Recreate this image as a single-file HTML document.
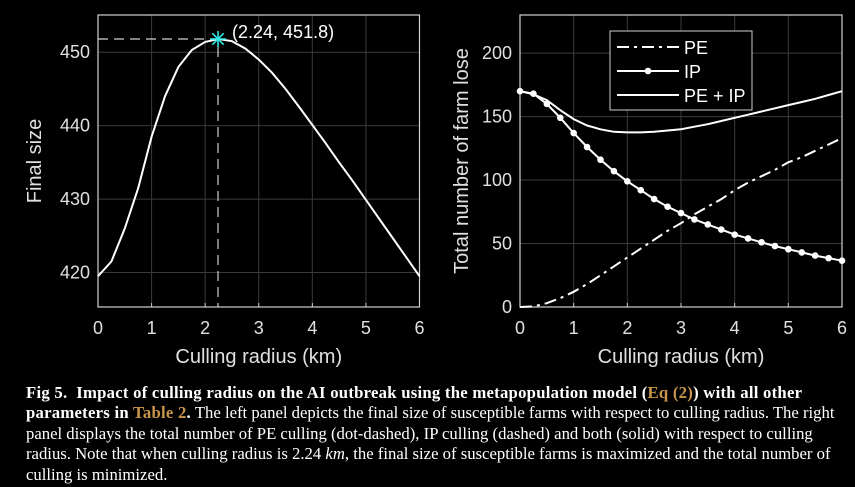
<!DOCTYPE html>
<html><head><meta charset="utf-8">
<style>
html,body{margin:0;padding:0;background:#000;}
body{width:855px;height:487px;overflow:hidden;position:relative;font-family:"Liberation Sans",sans-serif;}
svg{position:absolute;left:0;top:0;}
#cap{position:absolute;left:26px;top:383px;color:#fff;font-family:"Liberation Serif",serif;font-size:16.7px;line-height:20.4px;white-space:nowrap;}
#cap b{letter-spacing:0.25px;}
#cap .o{color:#c9954a;}
</style></head><body>
<svg id="chart" width="855" height="380" xmlns="http://www.w3.org/2000/svg"></svg>
<div id="cap">
<b>Fig 5.&nbsp; Impact of culling radius on the AI outbreak using the metapopulation model (<span class="o">Eq (2)</span>) with all other</b><br>
<b>parameters in <span class="o">Table 2</span>.</b> The left panel depicts the final size of susceptible farms with respect to culling radius. The right<br>
panel displays the total number of PE culling (dot-dashed), IP culling (dashed) and both (solid) with respect to culling<br>
radius. Note that when culling radius is 2.24 <i>km</i>, the final size of susceptible farms is maximized and the total number of<br>
culling is minimized.
</div>
<script>
const radius = [0,0.25,0.5,0.75,1,1.25,1.5,1.75,2,2.25,2.5,2.75,3,3.25,3.5,3.75,4,4.25,4.5,4.75,5,5.25,5.5,5.75,6];
const finalSize = [419.5,421.5,426,431.5,438.5,444,448,450.3,451.4,451.8,451.5,450.5,449,447.2,445,442.6,440.1,437.6,435,432.5,429.9,427.3,424.7,422.1,419.5];
const ipLoss = [170,168,160,149,137,126,116,107,99,92,85,79,74,69,65,61,57,54,51,48,45.5,43,40.5,38.5,36.5];
const peLoss = [0,0.5,3,7,12,18,25,32,39,46,53,60,66,73,79,85,92,98,103,108,114,118,123,128,133];
const totalLoss = [170,167.5,163,155,148,143,140,138,137.5,137.5,138,139,140,142,144,146.5,149,151.5,154,156.5,159,161.5,164,167,170];
const xTicks = [0,1,2,3,4,5,6];
const yTicksL = [420,430,440,450];
const yTicksR = [0,50,100,150,200];
const optX = 2.24, optY = 451.8;

const NS="http://www.w3.org/2000/svg";
const svg=document.getElementById('chart');
function mk(tag,attrs,parent){const e=document.createElementNS(NS,tag);for(const k in attrs)e.setAttribute(k,attrs[k]);(parent||svg).appendChild(e);return e;}
function txt(s,attrs,parent){const e=mk('text',attrs,parent);e.textContent=s;return e;}

function panel(L,R,T,B,xmin,xmax,ymin,ymax,yticks,ylabel,name){
  const g=mk('g',{});
  
  
  const sx=v=>L+(v-xmin)/(xmax-xmin)*(R-L);
  const sy=v=>B-(v-ymin)/(ymax-ymin)*(B-T);
  xTicks.forEach(t=>{
    const l=mk('line',{x1:sx(t),x2:sx(t),y1:T,y2:B,stroke:'#3a3a3a','stroke-width':1},g);
    
    
    mk('line',{x1:sx(t),x2:sx(t),y1:B,y2:B-4,stroke:'#ccc'},g);
    const tx=txt(String(t),{x:sx(t),y:B+27,fill:'#e0e0e0','font-size':18,'text-anchor':'middle'},g);
    
    
  });
  yticks.forEach(t=>{
    const l=mk('line',{x1:L,x2:R,y1:sy(t),y2:sy(t),stroke:'#3a3a3a','stroke-width':1},g);
    
    
    const tx=txt(String(t),{x:L-8,y:sy(t)+6,fill:'#e0e0e0','font-size':18,'text-anchor':'end'},g);
    
    
  });
  const box=mk('rect',{x:L,y:T,width:R-L,height:B-T,fill:'none',stroke:'#d0d0d0','stroke-width':1.2},g);
  
  
  const xl=txt('Culling radius (km)',{x:(L+R)/2,y:B+56,fill:'#e0e0e0','font-size':20,'text-anchor':'middle'},g);
  
  
  const yx=L-(name==='left-panel'?57:52), yy=(T+B)/2;
  const yl=txt(ylabel,{x:yx,y:yy,fill:'#e0e0e0','font-size':20,'text-anchor':'middle',transform:`rotate(-90 ${yx} ${yy})`},g);
  
  
  return {sx,sy,g};
}
function pathD(xs,ys,sx,sy){return xs.map((x,i)=>(i?'L':'M')+sx(x).toFixed(1)+' '+sy(ys[i]).toFixed(1)).join(' ');}

const A=panel(98,419.5,15,307,0,6,415.3,455.07,yTicksL,'Final size','left-panel');
const fl=mk('path',{d:pathD(radius,finalSize,A.sx,A.sy),fill:'none',stroke:'#fff','stroke-width':2},A.g);


const gv=mk('polyline',{points:`${A.sx(0)},${A.sy(optY)} ${A.sx(optX)},${A.sy(optY)} ${A.sx(optX)},307`,fill:'none',stroke:'#d0d0d0','stroke-width':1.2,'stroke-dasharray':'10 6'},A.g);


const sg=mk('g',{stroke:'#2ee8e8','stroke-width':1.6},A.g);


const cx=A.sx(optX),cy=A.sy(optY),r=8;
[0,45,90,135].forEach(a=>{const rad=a*Math.PI/180;mk('line',{x1:cx-r*Math.cos(rad),y1:cy-r*Math.sin(rad),x2:cx+r*Math.cos(rad),y2:cy+r*Math.sin(rad)},sg);});
const ol=txt(`(${optX}, ${optY})`,{x:cx+14,y:cy-1,fill:'#fff','font-size':18},A.g);



const Bp=panel(520,842,15,307,0,6,0,230,yTicksR,'Total number of farm lose','right-panel');
const pe=mk('path',{d:pathD(radius,peLoss,Bp.sx,Bp.sy),fill:'none',stroke:'#fff','stroke-width':2,'stroke-dasharray':'12 5 3 5'},Bp.g);


const tot=mk('path',{d:pathD(radius,totalLoss,Bp.sx,Bp.sy),fill:'none',stroke:'#fff','stroke-width':2},Bp.g);


const ip=mk('path',{d:pathD(radius,ipLoss,Bp.sx,Bp.sy),fill:'none',stroke:'#fff','stroke-width':2},Bp.g);


radius.forEach((x,i)=>{
  const c=mk('circle',{cx:Bp.sx(x),cy:Bp.sy(ipLoss[i]),r:3.3,fill:'#fff'},Bp.g);
  
  
});
const lg=mk('g',{},Bp.g);


mk('rect',{x:610,y:31,width:142,height:79,fill:'#000',stroke:'#d0d0d0','stroke-width':1},lg);
const ents=[['PE','12 5 3 5',false],['IP','',true],['PE + IP','',false]];
ents.forEach((e,i)=>{
  const y=47+i*24;
  const eg=mk('g',{},lg);
  
  
  const a={x1:617,x2:679,y1:y,y2:y,stroke:'#fff','stroke-width':2};
  if(e[1])a['stroke-dasharray']=e[1];
  mk('line',a,eg);
  if(e[2])mk('circle',{cx:648,cy:y,r:3.3,fill:'#fff'},eg);
  txt(e[0],{x:684,y:y+7,fill:'#fff','font-size':18},eg);
});
</script>
</body></html>
